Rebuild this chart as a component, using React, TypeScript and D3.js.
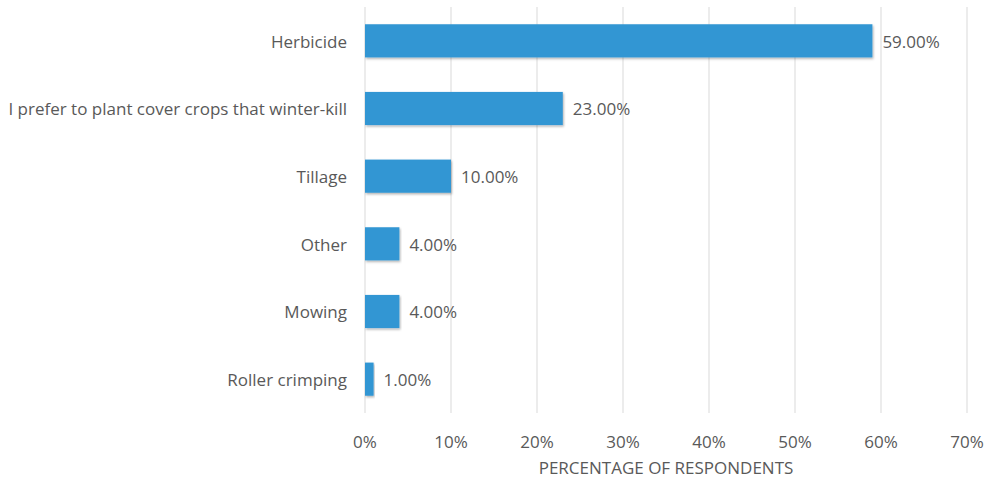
import React from "react";
import * as d3 from "d3";

const categories = ["Herbicide", "I prefer to plant cover crops that winter-kill", "Tillage", "Other", "Mowing", "Roller crimping"];
const values = [59, 23, 10, 4, 4, 1];
const tickValues = [0, 10, 20, 30, 40, 50, 60, 70];
const axisTitle = "PERCENTAGE OF RESPONDENTS";

const W = 987, H = 483;
const FONT = "'Open Sans', sans-serif";
const TEXT = "#595959";
const FS = 17;

export default function App() {
  const x = d3.scaleLinear().domain([0, 70]).range([365, 967]);
  const y = d3.scaleBand().domain(categories).range([7, 413]).paddingInner(0.51).paddingOuter(0.255);
  return (
    <svg width={W} height={H} style={{ position: "absolute", left: 0, top: 0, background: "#fff" }}>
      <defs>
        <filter id="sh" x="-5%" y="-20%" width="110%" height="150%">
          <feDropShadow dx="1" dy="1.5" stdDeviation="1" floodColor="#000" floodOpacity="0.3" />
        </filter>
      </defs>
      {tickValues.map((t) => (
        <line key={t} x1={x(t)} x2={x(t)} y1={7} y2={413} stroke="#d9d9d9" strokeWidth={1} />
      ))}
      {categories.map((c, i) => (
        <g key={c}>
          <rect x={x(0)} y={y(c)!} width={x(values[i]) - x(0)} height={y.bandwidth()} fill="#3396d3" filter="url(#sh)" />
          <text x={347} y={y(c)! + y.bandwidth() / 2 + 1} dy="0.35em" textAnchor="end" fontFamily={FONT} fontSize={FS} fill={TEXT}>{c}</text>
          <text x={x(values[i]) + 10} y={y(c)! + y.bandwidth() / 2 + 1} dy="0.35em" fontFamily={FONT} fontSize={FS} fill={TEXT}>{values[i].toFixed(2) + "%"}</text>
        </g>
      ))}
      {tickValues.map((t) => (
        <text key={t} x={x(t)} y={442} dy="0.35em" textAnchor="middle" fontFamily={FONT} fontSize={FS} fill={TEXT}>{t + "%"}</text>
      ))}
      <text x={(x(0) + x(70)) / 2} y={468} dy="0.35em" textAnchor="middle" fontFamily={FONT} fontSize={FS} fill={TEXT}>{axisTitle}</text>
    </svg>
  );
}
